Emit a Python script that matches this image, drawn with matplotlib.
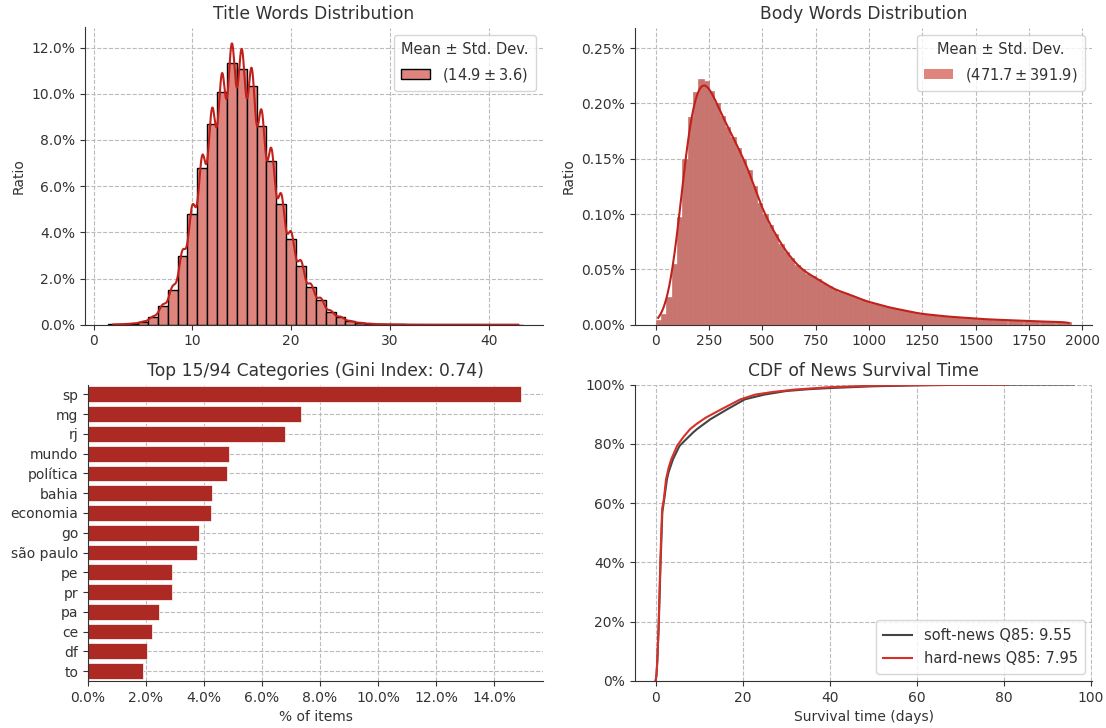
import numpy as np
import matplotlib
matplotlib.use('Agg')
import matplotlib.pyplot as plt
import seaborn as sns
from matplotlib.patches import Patch
from matplotlib.ticker import PercentFormatter

# words per title (discrete) and share of items, in %
title_len = list(range(2, 44))
title_ratio = [0.01, 0.02, 0.05, 0.12, 0.32, 0.80, 1.52, 2.97, 4.79, 6.79,
               8.70, 10.07, 11.32, 11.06, 10.32, 8.60, 7.08, 5.23, 3.71, 2.56,
               1.62, 1.07, 0.56, 0.32, 0.15, 0.08, 0.04, 0.02, 0.01, 0.01,
               0.005, 0.003, 0.003, 0.002, 0.002, 0.002, 0.001, 0.001, 0.001,
               0.001, 0.001, 0.001]

# body words, 25-word bins (centres), ratio per word in %
body_len = list(np.arange(12.5, 1950, 25))
body_ratio = [0.004, 0.010, 0.025, 0.055, 0.097, 0.150, 0.188, 0.210, 0.222, 0.220,
              0.211, 0.200, 0.189, 0.179, 0.170, 0.160, 0.150, 0.140, 0.125, 0.110,
              0.100, 0.090, 0.082, 0.073, 0.066, 0.060, 0.054, 0.050, 0.046, 0.044,
              0.041, 0.038, 0.035, 0.032, 0.030, 0.029, 0.027, 0.025, 0.023, 0.021,
              0.020, 0.019, 0.017, 0.016, 0.015, 0.014, 0.013, 0.012, 0.011, 0.010,
              0.0095, 0.009, 0.0085, 0.008, 0.0075, 0.007, 0.0068, 0.0065, 0.006, 0.0057,
              0.0054, 0.005, 0.0048, 0.0046, 0.0044, 0.0042, 0.004, 0.0038, 0.0036, 0.0034,
              0.0032, 0.003, 0.0029, 0.0028, 0.0026, 0.0025, 0.0024, 0.0023]

categories = ['sp', 'mg', 'rj', 'mundo', 'política', 'bahia', 'economia', 'go',
              'são paulo', 'pe', 'pr', 'pa', 'ce', 'df', 'to']
cat_share = [14.93, 7.34, 6.79, 4.86, 4.78, 4.28, 4.25, 3.83, 3.75, 2.88, 2.88,
             2.46, 2.22, 2.05, 1.89]

soft_days = [0, 0.2, 0.4, 0.7, 1.15, 1.55, 1.95, 2.6, 3.0, 4.0, 5.5, 7.0, 8.6, 9.55,
             12.6, 16.4, 20.5, 25, 30, 35, 40, 50, 60, 70, 80, 96]
soft_cdf = [0, 0.02, 0.07, 0.18, 0.40, 0.57, 0.61, 0.68, 0.705, 0.748, 0.793, 0.815,
            0.838, 0.85, 0.883, 0.916, 0.95, 0.966, 0.978, 0.984, 0.988, 0.994,
            0.997, 0.999, 0.9995, 1.0]
hard_days = [0, 0.2, 0.4, 0.7, 1.1, 1.5, 1.9, 2.4, 3.0, 3.6, 5.0, 6.5, 7.95, 9.5,
             11.5, 15.3, 19.5, 22.9, 27, 32, 40, 50, 60, 70, 81]
hard_cdf = [0, 0.02, 0.07, 0.19, 0.41, 0.58, 0.614, 0.681, 0.72, 0.748, 0.795, 0.825,
            0.85, 0.868, 0.888, 0.918, 0.95, 0.966, 0.975, 0.983, 0.991, 0.996,
            0.998, 0.9995, 1.0]

txt = '#333333'
plt.rcParams.update({'font.family': 'DejaVu Sans', 'font.size': 10,
                     'text.color': txt, 'axes.labelcolor': txt,
                     'xtick.color': txt, 'ytick.color': txt,
                     'axes.edgecolor': '#333333'})

W, H = 1106, 728
fig = plt.figure(figsize=(W / 100, H / 100), dpi=100)


def rect(x0, x1, ytop, ybot):
    return [x0 / W, 1 - ybot / H, (x1 - x0) / W, (ybot - ytop) / H]


ax1 = fig.add_axes(rect(84.7, 543, 27.5, 324.7))
ax2 = fig.add_axes(rect(634.7, 1092.3, 27.5, 324.7))
ax3 = fig.add_axes(rect(88, 543, 384.5, 681))
ax4 = fig.add_axes(rect(634.7, 1092.3, 384.5, 681))

for ax in (ax1, ax2, ax3, ax4):
    ax.set_axisbelow(True)
    ax.grid(True, linestyle='--', color='#bbbbbb', linewidth=0.8)
    sns.despine(ax=ax)

line_red = '#c0211b'
leg_kw = dict(fontsize=10.5, title_fontsize=10.5, borderpad=0.5, labelspacing=0.6)
title_fs = 12.3

# title words
sns.histplot(x=title_len, weights=title_ratio, discrete=True, stat='count',
             kde=True, kde_kws=dict(bw_adjust=0.178, cut=0, gridsize=1500),
             color='#e0857e', alpha=1, edgecolor='black', linewidth=1, ax=ax1)
ax1.lines[-1].set_color(line_red)
ax1.lines[-1].set_linewidth(1.5)
ax1.set_xlim(-0.9, 45.5)
ax1.set_ylim(0, 12.87)
ax1.set_xticks([0, 10, 20, 30, 40])
ax1.yaxis.set_major_formatter(PercentFormatter(100, decimals=1))
ax1.set_ylabel('Ratio')
ax1.set_xlabel('')
ax1.set_title('Title Words Distribution', fontsize=title_fs)
ax1.legend(handles=[Patch(facecolor='#e0857e', edgecolor='black')],
           labels=[r'$(14.9 \pm 3.6)$'], title='Mean ± Std. Dev.', loc='upper right',
           **leg_kw)

# body words
sns.histplot(x=body_len, weights=body_ratio, binwidth=25, binrange=(0, 1950),
             stat='count', kde=True, kde_kws=dict(bw_adjust=0.17, cut=0, gridsize=600),
             color='#c9756f', alpha=1, edgecolor='#c9756f', linewidth=0.5, ax=ax2)
ax2.lines[-1].set_color(line_red)
ax2.lines[-1].set_linewidth(1.5)
ax2.set_ylim(0, 0.2686)
ax2.set_xticks(range(0, 2001, 250))
ax2.yaxis.set_major_formatter(PercentFormatter(100, decimals=2))
ax2.set_ylabel('Ratio')
ax2.set_xlabel('')
ax2.set_title('Body Words Distribution', fontsize=title_fs)
ax2.legend(handles=[Patch(facecolor='#e0857e')],
           labels=[r'$(471.7 \pm 391.9)$'], title='Mean ± Std. Dev.', loc='upper right',
           **leg_kw)

# categories
ypos = range(len(categories))
ax3.barh(ypos, cat_share, height=0.8, color='#ad2a24', edgecolor='white', linewidth=0.5)
ax3.set_yticks(list(ypos))
ax3.set_yticklabels(categories)
ax3.set_ylim(14.5, -0.5)
ax3.set_xlim(0, 15.69)
ax3.set_xticks(range(0, 15, 2))
ax3.xaxis.set_major_formatter(PercentFormatter(100, decimals=1))
ax3.set_xlabel('% of items')
ax3.set_title('Top 15/94 Categories (Gini Index: 0.74)', fontsize=title_fs)

# survival CDF
ax4.plot(soft_days, soft_cdf, color='#444444', lw=1.5, label='soft-news Q85: 9.55')
ax4.plot(hard_days, hard_cdf, color='#d7302a', lw=1.5, label='hard-news Q85: 7.95')
ax4.set_xlim(-4.8, 100.3)
ax4.set_ylim(0, 1)
ax4.set_xticks(range(0, 101, 20))
ax4.yaxis.set_major_formatter(PercentFormatter(1, decimals=0))
ax4.set_xlabel('Survival time (days)')
ax4.set_title('CDF of News Survival Time', fontsize=title_fs)
ax4.legend(loc='lower right', fontsize=10.5, borderpad=0.5, labelspacing=0.6)

fig.savefig('out.png', dpi=100)
